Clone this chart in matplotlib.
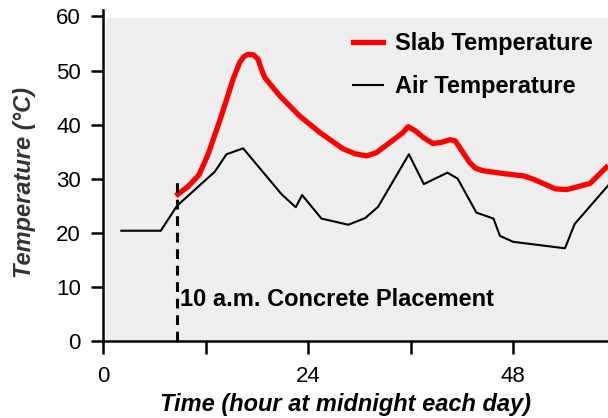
import matplotlib
matplotlib.use("Agg")
import matplotlib.pyplot as plt
from matplotlib.lines import Line2D

plt.rcParams['font.family'] = ['Liberation Sans', 'DejaVu Sans']

# Data (hours, °C)
air_hours = [2.15, 6.76, 8.67, 13.08, 14.45, 16.4, 20.9, 22.56, 23.3, 25.57, 28.7,
             30.7, 32.2, 35.8, 37.55, 40.3, 41.5, 43.7, 45.7, 46.45, 48.0, 54.06,
             55.2, 59.1]
air_temp = [20.35, 20.35, 24.98, 31.27, 34.5, 35.6, 27.1, 24.7, 26.95, 22.6, 21.46,
            22.7, 24.8, 34.5, 28.98, 31.1, 30.0, 23.7, 22.6, 19.4, 18.3, 17.1,
            21.6, 28.7]

slab_hours = [8.51, 10.0, 11.24, 12.3, 13.66, 14.5, 15.22, 16.0, 16.5, 16.98, 17.6,
              18.15, 18.5, 18.93, 20.7, 23.0, 25.4, 28.1, 29.5, 30.84, 32.0, 35.1,
              35.7, 36.5, 37.5, 38.6, 39.6, 40.6, 41.2, 41.6, 42.9, 43.6, 44.5, 47.0,
              49.2, 50.35, 51.8, 52.9, 54.26, 57.0, 59.1]
slab_temp = [26.8, 28.6, 30.7, 34.5, 40.7, 44.8, 48.4, 51.5, 52.6, 53.0, 52.9,
             52.1, 50.4, 48.7, 45.3, 41.6, 38.5, 35.5, 34.6, 34.2, 34.8, 38.5,
             39.6, 38.9, 37.6, 36.5, 36.7, 37.2, 37.0, 36.1, 33.0, 31.9, 31.45, 30.9,
             30.5, 29.9, 28.9, 28.1, 27.96, 29.1, 32.4]

placement_hour = 8.67
placement_top = 30.0
x_ticks = [0, 12, 24, 36, 48]
x_tick_labels = ['0', '', '24', '', '48']
y_ticks = [0, 10, 20, 30, 40, 50, 60]

fig = plt.figure(figsize=(6.08, 4.18), dpi=100)
ax = fig.add_axes([103/608, 1 - 340.7/418, 1 - 103/608, (340.7 - 10)/418])
ax.set_facecolor('white')
ax.axhspan(0, 59.8, xmin=0.006, color='#eeeeee', zorder=0, lw=0)

ax.plot(air_hours, air_temp, color='black', lw=1.5, zorder=3)
ax.plot(slab_hours, slab_temp, color='#ff0000', lw=3.8, zorder=4,
        solid_joinstyle='round', solid_capstyle='butt')
ax.plot([placement_hour, placement_hour], [0, placement_top], color='black',
        lw=2.2, ls=(0, (3.2, 2.2)), zorder=5)

ax.text(placement_hour + 0.35, 7.6, '10 a.m. Concrete Placement', fontsize=17,
        fontweight='bold', va='center', ha='left', zorder=6)

ax.set_xlim(0, 59.1)
ax.set_ylim(0, 61.2)
ax.set_xticks(x_ticks)
ax.set_xticklabels(x_tick_labels)
ax.set_yticks(y_ticks)
ax.tick_params(axis='both', direction='out', length=9, width=1.8, labelsize=16, pad=7)
ax.tick_params(axis='x', pad=9)
for s in ['top', 'right']:
    ax.spines[s].set_visible(False)
for s in ['left', 'bottom']:
    ax.spines[s].set_linewidth(1.8)

handles = [Line2D([], [], color='#ff0000', lw=3.8), Line2D([], [], color='black', lw=1.5)]
leg = fig.legend(handles, ['Slab Temperature', 'Air Temperature'], loc='upper left',
                 bbox_to_anchor=(353/608, 1 - 32/418), frameon=False, handlelength=1.27,
                 handletextpad=0.5, labelspacing=0.85, borderpad=0, borderaxespad=0,
                 prop={'weight': 'bold', 'size': 17})

fig.text(345/608, 1 - 405/418, 'Time (hour at midnight each day)', fontsize=17,
         fontweight='bold', fontstyle='italic', ha='center', va='center')
fig.text(25/608, 1 - 182/418, 'Temperature (°C)', fontsize=17, fontstyle='italic',
         fontweight='bold', color='#333333', rotation=90, ha='center', va='center')

fig.savefig('out.png', dpi=100)
